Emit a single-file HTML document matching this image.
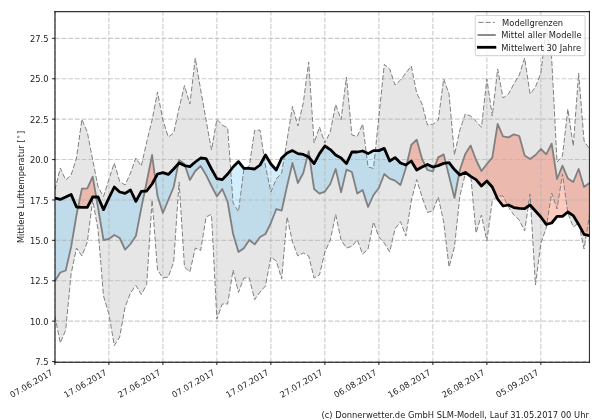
<!DOCTYPE html>
<html lang="de"><head><meta charset="utf-8"><title>Mittlere Lufttemperatur</title>
<style>html,body{margin:0;padding:0;background:#fff;overflow:hidden}svg{display:block;will-change:transform}text{font-family:"DejaVu Sans","Liberation Sans",sans-serif;font-size:8.333px;fill:#1c1c1c}</style></head><body>
<svg width="600" height="420" viewBox="0 0 600 420">
<rect width="600" height="420" fill="#fff"/>
<defs><clipPath id="ax"><rect x="54.9" y="11.65" width="534.5500000000001" height="350.6"/></clipPath></defs>
<g clip-path="url(#ax)">
<polygon points="54.90,190.00 60.30,168.00 65.70,180.00 71.10,175.00 76.50,158.00 81.90,119.40 87.30,132.00 92.70,160.00 98.10,187.00 103.50,196.50 108.89,179.50 114.29,163.00 119.69,181.50 125.09,185.00 130.49,173.00 135.89,158.00 141.29,166.00 146.69,142.00 152.09,120.00 157.49,92.00 162.89,120.00 168.29,137.00 173.69,133.00 179.09,108.00 184.49,85.60 189.89,104.00 195.29,58.00 200.69,90.00 206.09,120.00 211.49,150.00 216.88,119.40 222.28,125.00 227.68,128.00 233.08,203.00 238.48,211.60 243.88,169.00 249.28,166.00 254.68,130.20 260.08,130.20 265.48,166.00 270.88,192.00 276.28,179.00 281.68,173.00 287.08,140.00 292.48,106.40 297.88,126.00 303.28,103.00 308.68,62.00 314.08,143.00 319.48,127.00 324.87,143.00 330.27,132.00 335.67,104.40 341.07,119.60 346.47,77.00 351.87,135.00 357.27,136.40 362.67,124.00 368.07,167.00 373.47,168.40 378.87,117.00 384.27,64.40 389.67,69.00 395.07,85.00 400.47,80.00 405.87,73.00 411.27,66.00 416.67,93.00 422.07,104.00 427.47,125.00 432.86,124.20 438.26,120.40 443.66,79.00 449.06,94.00 454.46,155.00 459.86,130.00 465.26,114.00 470.66,116.00 476.06,121.30 481.46,127.30 486.86,79.00 492.26,116.00 497.66,69.00 503.06,98.00 508.46,94.00 513.86,84.00 519.26,75.00 524.66,58.00 530.06,94.00 535.46,87.00 540.85,73.00 546.25,28.00 551.65,58.00 557.05,162.00 562.45,156.00 567.85,109.00 573.25,146.00 578.65,73.00 584.05,141.00 589.45,149.00 589.45,215.00 584.05,249.00 578.65,223.00 573.25,227.00 567.85,213.00 562.45,174.00 557.05,209.00 551.65,193.00 546.25,228.00 540.85,243.00 535.46,285.00 530.06,194.00 524.66,231.00 519.26,220.00 513.86,215.00 508.46,207.00 503.06,196.00 497.66,196.00 492.26,201.00 486.86,241.00 481.46,215.00 476.06,233.00 470.66,175.00 465.26,174.00 459.86,196.00 454.46,247.00 449.06,267.00 443.66,222.00 438.26,197.00 432.86,211.00 427.47,212.40 422.07,197.00 416.67,179.60 411.27,201.00 405.87,236.00 400.47,221.60 395.07,229.00 389.67,252.00 384.27,243.00 378.87,237.00 373.47,222.00 368.07,249.00 362.67,254.00 357.27,240.00 351.87,246.40 346.47,248.00 341.07,240.00 335.67,214.40 330.27,240.00 324.87,252.00 319.48,275.00 314.08,278.00 308.68,256.00 303.28,253.00 297.88,256.00 292.48,242.00 287.08,217.00 281.68,279.00 276.28,261.00 270.88,257.00 265.48,286.00 260.08,292.00 254.68,299.60 249.28,278.00 243.88,278.00 238.48,292.40 233.08,270.00 227.68,304.00 222.28,304.00 216.88,319.00 211.49,214.40 206.09,217.00 200.69,250.40 195.29,248.00 189.89,272.00 184.49,267.00 179.09,182.00 173.69,262.00 168.29,277.00 162.89,278.00 157.49,270.00 152.09,200.00 146.69,284.50 141.29,294.50 135.89,285.40 130.49,293.00 125.09,307.00 119.69,337.00 114.29,345.60 108.89,314.00 103.50,296.00 98.10,230.00 92.70,200.00 87.30,242.00 81.90,256.00 76.50,248.00 71.10,274.00 65.70,330.00 60.30,343.00 54.90,316.00" fill="#808080" fill-opacity="0.2"/>
<polygon points="54.90,198.00 60.30,199.40 65.70,197.00 71.10,194.40 76.50,207.00 78.12,207.12 78.12,207.12 76.50,215.00 71.10,247.00 65.70,270.50 60.30,272.50 54.90,281.00" fill="#50BFF7" fill-opacity="0.25"/>
<polygon points="96.20,197.00 98.10,197.00 103.50,209.60 108.89,198.00 114.29,187.00 119.69,192.00 125.09,193.40 130.49,190.00 135.89,201.40 141.29,191.40 144.79,191.14 144.79,191.14 141.29,208.00 135.89,236.00 130.49,244.00 125.09,249.60 119.69,238.00 114.29,235.00 108.89,239.00 103.50,240.00 98.10,208.00 96.20,197.00" fill="#50BFF7" fill-opacity="0.25"/>
<polygon points="155.16,178.31 157.49,174.00 162.89,172.60 168.29,174.40 173.69,169.00 178.32,163.86 178.32,163.86 173.69,187.00 168.29,200.00 162.89,213.00 157.49,196.00 155.16,178.31" fill="#50BFF7" fill-opacity="0.25"/>
<polygon points="185.06,165.71 189.89,166.60 195.29,162.00 200.69,158.00 206.09,158.60 211.49,169.00 216.88,178.60 222.28,179.60 227.68,174.00 233.08,167.00 238.48,161.60 243.88,168.40 249.28,168.40 254.68,169.00 260.08,165.00 265.48,155.00 270.88,164.00 276.28,170.00 281.68,158.00 287.08,153.00 292.48,150.60 297.88,153.60 303.28,154.40 307.43,156.40 307.43,156.40 303.28,173.00 297.88,183.00 292.48,163.00 287.08,186.00 281.68,210.60 276.28,209.00 270.88,223.00 265.48,234.00 260.08,237.00 254.68,244.40 249.28,240.00 243.88,248.30 238.48,252.00 233.08,234.00 227.68,202.00 222.28,189.00 216.88,196.40 211.49,186.00 206.09,175.00 200.69,166.00 195.29,171.00 189.89,180.00 185.06,165.71" fill="#50BFF7" fill-opacity="0.25"/>
<polygon points="309.65,158.19 314.08,163.60 319.48,153.60 324.87,146.00 330.27,149.60 335.67,155.00 341.07,158.00 346.47,163.60 351.87,152.00 357.27,152.00 362.67,151.00 368.07,153.60 373.47,150.60 378.87,150.60 384.27,148.40 389.67,161.00 395.07,157.60 400.47,163.00 405.87,165.00 406.72,164.37 406.72,164.37 405.87,168.00 400.47,185.00 395.07,180.60 389.67,178.60 384.27,174.00 378.87,188.00 373.47,195.00 368.07,207.00 362.67,190.00 357.27,193.60 351.87,172.00 346.47,169.60 341.07,192.40 335.67,169.00 330.27,184.00 324.87,191.60 319.48,193.60 314.08,189.00 309.65,158.19" fill="#50BFF7" fill-opacity="0.25"/>
<polygon points="425.24,165.47 427.47,164.40 432.86,167.00 434.75,166.51 434.75,166.51 432.86,171.40 427.47,170.00 425.24,165.47" fill="#50BFF7" fill-opacity="0.25"/>
<polygon points="445.83,163.08 449.06,162.60 454.46,169.60 459.05,174.19 459.05,174.19 454.46,198.00 449.06,176.00 445.83,163.08" fill="#50BFF7" fill-opacity="0.25"/>
<polygon points="78.12,207.12 81.90,188.70 87.30,188.40 92.70,176.70 96.20,197.00 96.20,197.00 92.70,197.00 87.30,207.40 81.90,207.40 78.12,207.12" fill="#F95F3D" fill-opacity="0.33"/>
<polygon points="144.79,191.14 146.69,182.00 152.09,155.00 155.16,178.31 155.16,178.31 152.09,184.00 146.69,191.00 144.79,191.14" fill="#F95F3D" fill-opacity="0.33"/>
<polygon points="178.32,163.86 179.09,160.00 184.49,164.00 185.06,165.71 185.06,165.71 184.49,165.60 179.09,163.00 178.32,163.86" fill="#F95F3D" fill-opacity="0.33"/>
<polygon points="307.43,156.40 308.68,151.40 309.65,158.19 309.65,158.19 308.68,157.00 307.43,156.40" fill="#F95F3D" fill-opacity="0.33"/>
<polygon points="406.72,164.37 411.27,145.00 416.67,139.60 422.07,159.00 425.24,165.47 425.24,165.47 422.07,167.00 416.67,170.00 411.27,161.00 406.72,164.37" fill="#F95F3D" fill-opacity="0.33"/>
<polygon points="434.75,166.51 438.26,157.40 443.66,154.40 445.83,163.08 445.83,163.08 443.66,163.40 438.26,165.60 434.75,166.51" fill="#F95F3D" fill-opacity="0.33"/>
<polygon points="459.05,174.19 459.86,170.00 465.26,154.00 470.66,145.60 476.06,160.00 481.46,171.00 486.86,164.00 492.26,157.60 497.66,124.00 503.06,136.40 508.46,137.40 513.86,134.40 519.26,136.00 524.66,155.60 530.06,159.00 535.46,155.00 540.85,149.00 546.25,154.40 551.65,143.60 557.05,179.00 562.45,165.60 567.85,178.40 573.25,182.00 578.65,169.00 584.05,187.00 589.45,183.00 589.45,235.60 584.05,234.40 578.65,224.40 573.25,215.60 567.85,212.00 562.45,216.40 557.05,216.40 551.65,223.00 546.25,224.40 540.85,217.00 535.46,211.00 530.06,205.00 524.66,208.60 519.26,208.40 513.86,207.60 508.46,205.00 503.06,206.00 497.66,199.00 492.26,187.00 486.86,181.00 481.46,186.00 476.06,179.60 470.66,176.40 465.26,172.40 459.86,175.00 459.05,174.19" fill="#F95F3D" fill-opacity="0.33"/>
</g>
<g stroke="#b0b0b0" stroke-opacity="0.65" stroke-width="1.1" stroke-dasharray="4.8 1.867" fill="none">
<path d="M54.90 362.25 V11.65"/>
<path d="M108.89 362.25 V11.65"/>
<path d="M162.89 362.25 V11.65"/>
<path d="M216.88 362.25 V11.65"/>
<path d="M270.88 362.25 V11.65"/>
<path d="M324.87 362.25 V11.65"/>
<path d="M378.87 362.25 V11.65"/>
<path d="M432.86 362.25 V11.65"/>
<path d="M486.86 362.25 V11.65"/>
<path d="M540.85 362.25 V11.65"/>
<path d="M54.9 361.55 H589.45"/>
<path d="M54.9 321.15 H589.45"/>
<path d="M54.9 280.75 H589.45"/>
<path d="M54.9 240.35 H589.45"/>
<path d="M54.9 199.95 H589.45"/>
<path d="M54.9 159.55 H589.45"/>
<path d="M54.9 119.15 H589.45"/>
<path d="M54.9 78.75 H589.45"/>
<path d="M54.9 38.35 H589.45"/>
</g>
<g clip-path="url(#ax)" fill="none" stroke-linejoin="round">
<path d="M54.90 190.00 L60.30 168.00 L65.70 180.00 L71.10 175.00 L76.50 158.00 L81.90 119.40 L87.30 132.00 L92.70 160.00 L98.10 187.00 L103.50 196.50 L108.89 179.50 L114.29 163.00 L119.69 181.50 L125.09 185.00 L130.49 173.00 L135.89 158.00 L141.29 166.00 L146.69 142.00 L152.09 120.00 L157.49 92.00 L162.89 120.00 L168.29 137.00 L173.69 133.00 L179.09 108.00 L184.49 85.60 L189.89 104.00 L195.29 58.00 L200.69 90.00 L206.09 120.00 L211.49 150.00 L216.88 119.40 L222.28 125.00 L227.68 128.00 L233.08 203.00 L238.48 211.60 L243.88 169.00 L249.28 166.00 L254.68 130.20 L260.08 130.20 L265.48 166.00 L270.88 192.00 L276.28 179.00 L281.68 173.00 L287.08 140.00 L292.48 106.40 L297.88 126.00 L303.28 103.00 L308.68 62.00 L314.08 143.00 L319.48 127.00 L324.87 143.00 L330.27 132.00 L335.67 104.40 L341.07 119.60 L346.47 77.00 L351.87 135.00 L357.27 136.40 L362.67 124.00 L368.07 167.00 L373.47 168.40 L378.87 117.00 L384.27 64.40 L389.67 69.00 L395.07 85.00 L400.47 80.00 L405.87 73.00 L411.27 66.00 L416.67 93.00 L422.07 104.00 L427.47 125.00 L432.86 124.20 L438.26 120.40 L443.66 79.00 L449.06 94.00 L454.46 155.00 L459.86 130.00 L465.26 114.00 L470.66 116.00 L476.06 121.30 L481.46 127.30 L486.86 79.00 L492.26 116.00 L497.66 69.00 L503.06 98.00 L508.46 94.00 L513.86 84.00 L519.26 75.00 L524.66 58.00 L530.06 94.00 L535.46 87.00 L540.85 73.00 L546.25 28.00 L551.65 58.00 L557.05 162.00 L562.45 156.00 L567.85 109.00 L573.25 146.00 L578.65 73.00 L584.05 141.00 L589.45 149.00" stroke="#808080" stroke-width="1.0" stroke-dasharray="5.1 2.1"/>
<path d="M54.90 316.00 L60.30 343.00 L65.70 330.00 L71.10 274.00 L76.50 248.00 L81.90 256.00 L87.30 242.00 L92.70 200.00 L98.10 230.00 L103.50 296.00 L108.89 314.00 L114.29 345.60 L119.69 337.00 L125.09 307.00 L130.49 293.00 L135.89 285.40 L141.29 294.50 L146.69 284.50 L152.09 200.00 L157.49 270.00 L162.89 278.00 L168.29 277.00 L173.69 262.00 L179.09 182.00 L184.49 267.00 L189.89 272.00 L195.29 248.00 L200.69 250.40 L206.09 217.00 L211.49 214.40 L216.88 319.00 L222.28 304.00 L227.68 304.00 L233.08 270.00 L238.48 292.40 L243.88 278.00 L249.28 278.00 L254.68 299.60 L260.08 292.00 L265.48 286.00 L270.88 257.00 L276.28 261.00 L281.68 279.00 L287.08 217.00 L292.48 242.00 L297.88 256.00 L303.28 253.00 L308.68 256.00 L314.08 278.00 L319.48 275.00 L324.87 252.00 L330.27 240.00 L335.67 214.40 L341.07 240.00 L346.47 248.00 L351.87 246.40 L357.27 240.00 L362.67 254.00 L368.07 249.00 L373.47 222.00 L378.87 237.00 L384.27 243.00 L389.67 252.00 L395.07 229.00 L400.47 221.60 L405.87 236.00 L411.27 201.00 L416.67 179.60 L422.07 197.00 L427.47 212.40 L432.86 211.00 L438.26 197.00 L443.66 222.00 L449.06 267.00 L454.46 247.00 L459.86 196.00 L465.26 174.00 L470.66 175.00 L476.06 233.00 L481.46 215.00 L486.86 241.00 L492.26 201.00 L497.66 196.00 L503.06 196.00 L508.46 207.00 L513.86 215.00 L519.26 220.00 L524.66 231.00 L530.06 194.00 L535.46 285.00 L540.85 243.00 L546.25 228.00 L551.65 193.00 L557.05 209.00 L562.45 174.00 L567.85 213.00 L573.25 227.00 L578.65 223.00 L584.05 249.00 L589.45 215.00" stroke="#808080" stroke-width="1.0" stroke-dasharray="5.1 2.1"/>
<path d="M54.90 281.00 L60.30 272.50 L65.70 270.50 L71.10 247.00 L76.50 215.00 L81.90 188.70 L87.30 188.40 L92.70 176.70 L98.10 208.00 L103.50 240.00 L108.89 239.00 L114.29 235.00 L119.69 238.00 L125.09 249.60 L130.49 244.00 L135.89 236.00 L141.29 208.00 L146.69 182.00 L152.09 155.00 L157.49 196.00 L162.89 213.00 L168.29 200.00 L173.69 187.00 L179.09 160.00 L184.49 164.00 L189.89 180.00 L195.29 171.00 L200.69 166.00 L206.09 175.00 L211.49 186.00 L216.88 196.40 L222.28 189.00 L227.68 202.00 L233.08 234.00 L238.48 252.00 L243.88 248.30 L249.28 240.00 L254.68 244.40 L260.08 237.00 L265.48 234.00 L270.88 223.00 L276.28 209.00 L281.68 210.60 L287.08 186.00 L292.48 163.00 L297.88 183.00 L303.28 173.00 L308.68 151.40 L314.08 189.00 L319.48 193.60 L324.87 191.60 L330.27 184.00 L335.67 169.00 L341.07 192.40 L346.47 169.60 L351.87 172.00 L357.27 193.60 L362.67 190.00 L368.07 207.00 L373.47 195.00 L378.87 188.00 L384.27 174.00 L389.67 178.60 L395.07 180.60 L400.47 185.00 L405.87 168.00 L411.27 145.00 L416.67 139.60 L422.07 159.00 L427.47 170.00 L432.86 171.40 L438.26 157.40 L443.66 154.40 L449.06 176.00 L454.46 198.00 L459.86 170.00 L465.26 154.00 L470.66 145.60 L476.06 160.00 L481.46 171.00 L486.86 164.00 L492.26 157.60 L497.66 124.00 L503.06 136.40 L508.46 137.40 L513.86 134.40 L519.26 136.00 L524.66 155.60 L530.06 159.00 L535.46 155.00 L540.85 149.00 L546.25 154.40 L551.65 143.60 L557.05 179.00 L562.45 165.60 L567.85 178.40 L573.25 182.00 L578.65 169.00 L584.05 187.00 L589.45 183.00" stroke="#808080" stroke-width="1.8" stroke-linecap="square"/>
<path d="M54.90 198.00 L60.30 199.40 L65.70 197.00 L71.10 194.40 L76.50 207.00 L81.90 207.40 L87.30 207.40 L92.70 197.00 L98.10 197.00 L103.50 209.60 L108.89 198.00 L114.29 187.00 L119.69 192.00 L125.09 193.40 L130.49 190.00 L135.89 201.40 L141.29 191.40 L146.69 191.00 L152.09 184.00 L157.49 174.00 L162.89 172.60 L168.29 174.40 L173.69 169.00 L179.09 163.00 L184.49 165.60 L189.89 166.60 L195.29 162.00 L200.69 158.00 L206.09 158.60 L211.49 169.00 L216.88 178.60 L222.28 179.60 L227.68 174.00 L233.08 167.00 L238.48 161.60 L243.88 168.40 L249.28 168.40 L254.68 169.00 L260.08 165.00 L265.48 155.00 L270.88 164.00 L276.28 170.00 L281.68 158.00 L287.08 153.00 L292.48 150.60 L297.88 153.60 L303.28 154.40 L308.68 157.00 L314.08 163.60 L319.48 153.60 L324.87 146.00 L330.27 149.60 L335.67 155.00 L341.07 158.00 L346.47 163.60 L351.87 152.00 L357.27 152.00 L362.67 151.00 L368.07 153.60 L373.47 150.60 L378.87 150.60 L384.27 148.40 L389.67 161.00 L395.07 157.60 L400.47 163.00 L405.87 165.00 L411.27 161.00 L416.67 170.00 L422.07 167.00 L427.47 164.40 L432.86 167.00 L438.26 165.60 L443.66 163.40 L449.06 162.60 L454.46 169.60 L459.86 175.00 L465.26 172.40 L470.66 176.40 L476.06 179.60 L481.46 186.00 L486.86 181.00 L492.26 187.00 L497.66 199.00 L503.06 206.00 L508.46 205.00 L513.86 207.60 L519.26 208.40 L524.66 208.60 L530.06 205.00 L535.46 211.00 L540.85 217.00 L546.25 224.40 L551.65 223.00 L557.05 216.40 L562.45 216.40 L567.85 212.00 L573.25 215.60 L578.65 224.40 L584.05 234.40 L589.45 235.60" stroke="#000" stroke-width="2.78" stroke-linecap="square"/>
</g>
<g stroke="#000" stroke-opacity="0.8" stroke-width="1.11" fill="none">
<path d="M54.90 362.25 v2.8"/>
<path d="M108.89 362.25 v2.8"/>
<path d="M162.89 362.25 v2.8"/>
<path d="M216.88 362.25 v2.8"/>
<path d="M270.88 362.25 v2.8"/>
<path d="M324.87 362.25 v2.8"/>
<path d="M378.87 362.25 v2.8"/>
<path d="M432.86 362.25 v2.8"/>
<path d="M486.86 362.25 v2.8"/>
<path d="M540.85 362.25 v2.8"/>
<path d="M54.9 361.55 h-2.8"/>
<path d="M54.9 321.15 h-2.8"/>
<path d="M54.9 280.75 h-2.8"/>
<path d="M54.9 240.35 h-2.8"/>
<path d="M54.9 199.95 h-2.8"/>
<path d="M54.9 159.55 h-2.8"/>
<path d="M54.9 119.15 h-2.8"/>
<path d="M54.9 78.75 h-2.8"/>
<path d="M54.9 38.35 h-2.8"/>
</g>
<g stroke="#000" stroke-width="1.11" fill="none" stroke-linecap="square">
<path d="M55.0 11.65 V362.25" stroke-opacity="0.9"/>
<path d="M589.45 11.65 V362.25" stroke-opacity="0.8"/>
<path d="M55.0 11.65 H589.45" stroke-opacity="0.8"/>
<path d="M55.0 362.25 H589.45"/>
</g>
<text x="48.5" y="365.15" text-anchor="end">7.5</text>
<text x="48.5" y="324.75" text-anchor="end">10.0</text>
<text x="48.5" y="284.35" text-anchor="end">12.5</text>
<text x="48.5" y="243.95" text-anchor="end">15.0</text>
<text x="48.5" y="203.55" text-anchor="end">17.5</text>
<text x="48.5" y="163.15" text-anchor="end">20.0</text>
<text x="48.5" y="122.75" text-anchor="end">22.5</text>
<text x="48.5" y="82.35" text-anchor="end">25.0</text>
<text x="48.5" y="41.95" text-anchor="end">27.5</text>
<text transform="translate(53.40,374.20) rotate(-30)" text-anchor="end">07.06.2017</text>
<text transform="translate(107.39,374.20) rotate(-30)" text-anchor="end">17.06.2017</text>
<text transform="translate(161.39,374.20) rotate(-30)" text-anchor="end">27.06.2017</text>
<text transform="translate(215.38,374.20) rotate(-30)" text-anchor="end">07.07.2017</text>
<text transform="translate(269.38,374.20) rotate(-30)" text-anchor="end">17.07.2017</text>
<text transform="translate(323.37,374.20) rotate(-30)" text-anchor="end">27.07.2017</text>
<text transform="translate(377.37,374.20) rotate(-30)" text-anchor="end">06.08.2017</text>
<text transform="translate(431.36,374.20) rotate(-30)" text-anchor="end">16.08.2017</text>
<text transform="translate(485.36,374.20) rotate(-30)" text-anchor="end">26.08.2017</text>
<text transform="translate(539.35,374.20) rotate(-30)" text-anchor="end">05.09.2017</text>
<text transform="translate(23.5,186.9) rotate(-90)" text-anchor="middle">Mittlere Lufttemperatur [<tspan font-size="3.8"> </tspan><tspan dy="-1.5" font-size="6.2">°</tspan><tspan font-size="3.8" dy="1.5"> </tspan>]</text>
<text x="588.9" y="417.7" text-anchor="end" textLength="267.4" lengthAdjust="spacing">(c) Donnerwetter.de GmbH SLM-Modell, Lauf 31.05.2017 00 Uhr</text>
<rect x="475.25" y="15.45" width="109.85000000000002" height="40.150000000000006" rx="1.7" ry="1.7" fill="#fff" fill-opacity="0.8" stroke="#ccc" stroke-opacity="0.8" stroke-width="1.1"/>
<path d="M478.4 22.4 H494.9" stroke="#808080" stroke-width="1.0" stroke-dasharray="5.1 2.1" fill="none"/>
<path d="M478.4 35.0 H494.9" stroke="#808080" stroke-width="1.8" stroke-linecap="square" fill="none"/>
<path d="M478.4 47.3 H494.9" stroke="#000" stroke-width="2.78" stroke-linecap="square" fill="none"/>
<text x="502.1" y="25.55" textLength="61.0" lengthAdjust="spacing">Modellgrenzen</text>
<text x="501.3" y="38.15" textLength="80.2" lengthAdjust="spacing">Mittel aller Modelle</text>
<text x="501.3" y="50.95" textLength="79.9" lengthAdjust="spacing">Mittelwert 30 Jahre</text>
</svg></body></html>
